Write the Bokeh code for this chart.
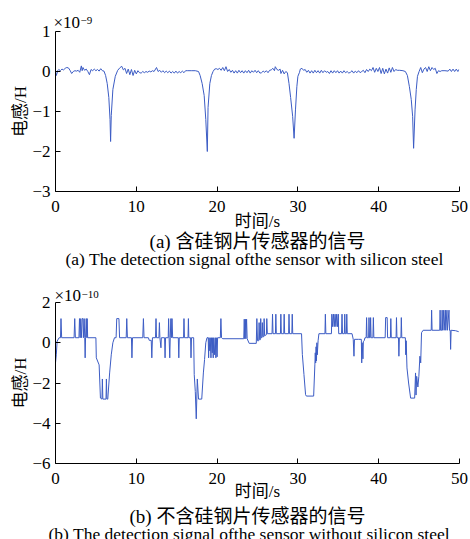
from bokeh.plotting import figure
from bokeh.models import Range1d, FixedTicker, Title
from bokeh.layouts import column
from bokeh.embed import file_html
from bokeh.resources import INLINE

# ---- data -------------------------------------------------------------
# (a) with silicon steel: time (s), inductance (x1e-9 H)
signal_a = [
    (0.0, 0.0), (0.1, -0.1), (0.3, 0.03), (0.4, 0.05), (0.6, 0.02), (0.8, 0.06), (1.0, 0.04),
    (1.2, 0.08), (1.4, 0.1), (1.6, 0.09), (1.8, 0.03), (2.0, -0.05), (2.2, 0.0), (2.4, 0.02),
    (2.6, 0.01), (2.8, 0.03), (3.0, -0.02), (3.2, 0.14), (3.3, 0.02), (3.4, 0.1), (3.6, 0.03),
    (3.8, 0.06), (4.0, 0.0), (4.2, -0.08), (4.4, 0.05), (4.6, 0.02), (4.8, 0.06), (5.0, 0.02),
    (5.2, 0.05), (5.4, 0.01), (5.6, 0.07), (5.8, 0.02), (6.0, 0.01),
    (6.2, -0.1), (6.4, -0.3), (6.6, -0.65), (6.75, -1.2), (6.82, -1.75), (6.9, -1.1),
    (7.1, -0.45), (7.4, -0.12), (7.7, 0.03),
    (8.0, 0.1), (8.2, 0.13), (8.4, 0.04), (8.6, 0.08), (8.8, -0.05), (9.0, 0.06), (9.2, -0.08),
    (9.4, 0.05), (9.6, -0.1), (9.8, 0.03), (10.0, -0.06), (10.2, 0.02), (10.4, -0.03),
    (10.6, -0.04), (10.8, 0.0), (11.0, -0.03), (11.2, 0.0), (11.4, -0.02), (11.6, 0.01),
    (11.8, -0.01), (12.0, 0.02), (12.2, 0.0), (12.5, 0.1), (12.7, 0.0), (12.9, 0.03),
    (13.1, -0.02), (13.3, 0.02), (13.5, -0.03), (13.7, 0.01), (13.9, -0.03), (14.1, 0.01),
    (14.3, -0.04), (14.5, 0.0), (14.7, -0.04), (14.9, 0.01), (15.1, -0.04), (15.3, 0.0),
    (15.5, -0.03), (15.7, 0.01), (15.9, -0.03), (16.1, 0.02), (16.3, 0.02), (16.8, 0.02),
    (17.3, 0.02), (17.7, 0.0),
    (17.9, -0.1), (18.15, -0.3), (18.4, -0.6), (18.6, -1.2), (18.79, -2.0), (18.88, -0.9),
    (19.1, -0.3), (19.3, -0.1), (19.5, 0.0), (19.7, 0.06),
    (19.9, 0.07), (20.1, 0.05), (20.3, 0.08), (20.5, 0.03), (20.7, 0.1), (20.9, 0.02),
    (21.1, 0.12), (21.3, 0.0), (21.5, 0.05), (21.7, -0.02), (21.9, 0.03), (22.1, -0.04),
    (22.3, 0.02), (22.5, -0.04), (22.7, 0.03), (22.9, -0.03), (23.1, 0.02), (23.3, -0.04),
    (23.5, 0.02), (23.7, -0.03), (23.9, 0.03), (24.1, -0.04), (24.3, 0.02), (24.5, -0.02),
    (24.7, 0.03), (24.9, -0.03), (25.1, 0.02), (25.3, -0.04), (25.5, -0.03), (25.7, 0.01),
    (25.9, -0.02), (26.1, 0.02), (26.3, -0.03), (26.5, 0.03), (26.7, 0.04), (26.9, 0.08),
    (27.1, 0.02), (27.2, 0.12), (27.4, 0.05), (27.6, 0.03), (27.8, 0.06), (27.9, -0.05),
    (28.1, 0.03), (28.3, -0.06), (28.5, 0.0), (28.7, -0.03),
    (28.9, -0.3), (29.1, -0.65), (29.35, -1.12), (29.53, -1.67), (29.7, -0.96),
    (29.87, -0.38), (30.0, -0.12), (30.2, -0.02), (30.3, 0.06),
    (30.5, 0.08), (30.7, 0.03), (30.9, 0.05), (31.1, -0.02), (31.3, 0.03), (31.5, -0.04),
    (31.7, 0.02), (31.9, -0.04), (32.1, 0.03), (32.3, -0.03), (32.5, 0.02), (32.7, -0.04),
    (32.9, 0.03), (33.1, -0.03), (33.3, 0.02), (33.5, -0.02), (33.7, 0.0), (33.9, -0.05),
    (34.1, 0.02), (34.3, -0.04), (34.5, 0.02), (34.7, -0.03), (34.9, 0.02), (35.1, -0.04),
    (35.3, 0.01), (35.5, -0.04), (35.7, 0.02), (35.9, -0.03), (36.1, 0.0), (36.3, -0.04),
    (36.5, -0.02), (36.7, 0.02), (36.9, -0.04), (37.1, 0.01), (37.3, -0.03), (37.5, 0.02),
    (37.7, -0.03), (37.9, 0.0), (38.1, 0.03), (38.3, -0.03), (38.5, 0.05), (38.7, 0.0),
    (38.9, 0.06), (39.1, 0.02), (39.3, 0.1), (39.5, -0.02), (39.7, 0.08), (39.9, 0.0),
    (40.1, 0.1), (40.3, -0.05), (40.5, 0.08), (40.7, -0.06), (40.9, 0.06), (41.1, -0.04),
    (41.3, 0.09), (41.5, -0.02), (41.7, 0.1), (41.9, 0.0), (42.1, 0.05), (42.3, 0.03),
    (42.6, 0.03), (43.0, 0.02), (43.3, 0.0),
    (43.55, -0.1), (43.8, -0.38), (44.03, -0.7), (44.2, -1.12), (44.32, -1.92), (44.5, -0.96),
    (44.65, -0.45), (44.8, -0.12), (45.0, 0.0),
    (45.2, 0.1), (45.4, -0.03), (45.6, 0.06), (45.8, 0.1), (46.0, 0.0), (46.2, 0.12),
    (46.4, 0.02), (46.6, 0.1), (46.8, 0.05), (47.0, 0.08), (47.2, -0.05), (47.4, 0.02),
    (47.6, 0.0), (47.8, 0.02), (48.2, 0.02), (48.6, 0.01), (48.8, 0.06), (49.0, 0.0),
    (49.2, 0.06), (49.4, 0.0), (49.6, 0.06), (49.8, 0.0), (49.9, 0.05),
]

# (b) without silicon steel: time (s), inductance (x1e-10 H)
signal_b = [
    (0.0, -1.0), (0.1, -0.6), (0.2, 0.08), (0.45, 0.25), (0.62, 0.25), (0.68, 1.2), (0.76, 0.25),
    (2.3, 0.25), (2.38, 1.2), (2.46, 0.25), (2.9, 0.25), (2.97, 1.2), (3.05, 0.25), (3.12, 1.2),
    (3.2, 0.25), (3.3, 1.2), (3.4, 1.2), (3.45, 0.25), (3.55, 1.2), (3.62, 0.25), (3.67, -0.75),
    (3.72, 0.25), (3.8, 1.2), (3.88, 0.25), (3.92, 1.2), (3.98, 0.25),
    (5.0, 0.25), (5.05, -0.75), (5.4, -1.1), (5.56, -2.75), (5.75, -2.8), (5.8, -1.8),
    (5.86, -2.8), (6.25, -2.8), (6.3, -1.8), (6.36, -2.8), (6.47, -2.8), (6.7, -1.5),
    (6.9, -0.6), (7.1, 0.0), (7.3, 0.25),
    (7.5, 0.25), (7.58, 1.2), (7.85, 1.2), (7.93, 0.25), (8.75, 0.25), (8.82, 1.2), (8.9, 0.25),
    (9.4, 0.25), (9.46, -0.75), (9.53, 0.25), (10.8, 0.25), (10.88, 1.2), (10.96, 0.25),
    (11.5, 0.25), (11.6, 0.12), (11.85, 0.12), (11.92, -0.75), (12.0, 0.25), (12.38, 0.25),
    (12.44, 1.2), (12.5, 0.25), (12.8, 0.25), (12.86, 1.0), (12.92, 0.25), (13.05, -0.25),
    (13.1, 0.25), (13.5, 0.25), (13.56, -0.75), (13.62, 0.25), (13.95, 0.25), (14.0, 1.2),
    (14.06, 0.25), (14.14, -0.75), (14.2, 0.25), (14.28, 1.2), (14.34, 0.25), (14.42, 1.2),
    (14.5, 0.25), (15.2, 0.25), (15.26, -0.75), (15.32, 0.25), (15.85, 0.25), (15.9, 1.2),
    (15.96, 0.25), (16.4, 0.25), (16.45, 1.2), (16.5, 0.25), (16.72, 0.25), (16.77, -0.75),
    (16.83, 0.25), (17.1, 0.25),
    (17.17, -1.58), (17.3, -2.42), (17.42, -3.78), (17.55, -1.8), (17.7, -2.8), (18.1, -2.8),
    (18.3, -1.5), (18.45, -0.83), (18.6, 0.0), (18.75, 0.25),
    (18.9, 0.25), (18.95, -0.75), (19.0, 0.25), (19.1, -0.4), (19.15, 0.25), (19.24, -0.75),
    (19.3, 0.25), (19.4, -0.5), (19.45, 0.25), (19.52, -0.75), (19.58, 0.25), (19.7, -0.6),
    (19.77, 0.25), (19.85, -0.75), (19.9, 0.25), (20.0, -0.7), (20.06, 0.25), (20.4, 0.25),
    (20.47, 1.2), (20.55, 0.25), (20.7, 0.2), (23.3, 0.2), (23.36, 1.17), (23.42, 0.2),
    (23.5, 1.17), (23.56, 0.2), (23.65, 1.17), (23.72, 0.2), (23.97, -0.03), (24.85, -0.03),
    (24.92, 1.2), (25.0, 0.1), (25.15, 0.1), (25.2, 1.0), (25.27, 0.15), (25.35, 0.15),
    (25.4, 1.2), (25.46, 0.25), (25.55, 0.25), (25.6, 1.0), (25.66, 0.3), (25.77, 0.3),
    (25.82, 1.2), (25.88, 0.35), (26.1, 0.4), (26.15, 1.2), (26.22, 0.45),
    (26.8, 0.45), (26.86, 1.42), (26.92, 0.45), (27.22, 0.45), (27.27, 1.42), (27.33, 0.45),
    (27.84, 0.45), (27.89, 1.42), (27.95, 0.45), (28.25, 0.45), (28.3, 1.42), (28.36, 0.45),
    (28.85, 0.45), (28.9, 1.42), (28.96, 0.45), (29.25, 0.45), (29.3, 1.42), (29.36, 0.45),
    (30.45, 0.45),
    (30.55, -0.58), (30.75, -1.58), (30.95, -2.58), (31.05, -2.65), (31.95, -2.65),
    (32.1, -1.1), (32.15, -0.5), (32.2, -1.0), (32.25, -0.2), (32.3, -0.9), (32.35, 0.0),
    (32.4, -0.6), (32.5, 0.1), (32.6, 0.45),
    (33.35, 0.45), (33.4, 1.42), (33.46, 0.45), (34.15, 0.45), (34.2, 1.42), (34.3, 0.8),
    (34.4, 1.42), (34.5, 0.8), (34.6, 1.42), (34.7, 0.8), (34.8, 1.42), (34.9, 0.8),
    (35.0, 1.42), (35.05, 0.45), (35.4, 0.45), (35.46, 1.42), (35.52, 0.45), (35.75, 0.45),
    (35.8, 1.42), (35.86, 0.45), (36.0, 0.45), (36.05, 1.42), (36.11, 0.45), (36.7, 0.45),
    (36.85, 0.17), (36.94, -0.67), (37.0, 0.17), (37.5, 0.17), (37.85, 0.17), (37.9, -1.0),
    (37.95, 0.0), (38.05, -0.8), (38.1, 0.05), (38.2, 0.1), (38.3, 0.25), (38.45, 0.25),
    (38.5, 1.25), (38.56, 0.25), (38.75, 0.25), (38.8, 1.25), (38.86, 0.25), (38.95, 0.25),
    (39.0, 1.25), (39.06, 0.25), (39.28, 0.25), (39.34, 1.25), (39.4, 0.25), (40.8, 0.25),
    (40.86, 1.25), (41.05, 1.25), (41.1, 0.25), (41.45, 0.25), (41.5, 1.2), (41.56, 0.25),
    (42.15, 0.25), (42.2, 1.25), (42.26, 0.25), (42.45, 0.25), (42.5, -0.67), (42.56, 0.25),
    (42.75, 0.25), (42.8, 1.25), (42.86, 0.25), (43.3, 0.25), (43.35, -0.6), (43.4, 0.1),
    (43.5, -1.25), (43.7, -2.0), (43.95, -2.75), (44.45, -2.75), (44.56, -1.5), (44.62, -2.6),
    (44.7, -1.67), (44.85, -2.2), (44.97, -1.67), (45.1, -0.67), (45.2, -1.0), (45.3, 0.5),
    (45.5, 0.62), (46.5, 0.62), (46.55, 1.62), (46.61, 0.62), (47.55, 0.62), (47.6, 1.62),
    (47.66, 0.62), (47.8, 0.62), (47.85, 1.62), (47.91, 0.62), (48.05, 1.62), (48.1, 0.62),
    (48.25, 1.62), (48.3, 0.62), (48.45, 1.62), (48.5, 0.62), (48.7, 1.62), (48.76, 0.62),
    (48.85, 0.62), (48.9, -0.33), (48.96, 0.62), (49.5, 0.6), (49.9, 0.55),
]

x_ticks = [0, 10, 20, 30, 40, 50]
y_ticks_a = [-3, -2, -1, 0, 1]
y_ticks_b = [-6, -4, -2, 0, 2]
exp_a = "\u22129"
exp_b = "\u221210"
x_label = "时间/s"
y_label = "电感/H"
cap_cn_a = "(a) 含硅钢片传感器的信号"
cap_en_a = "(a) The detection signal ofthe sensor with silicon steel"
cap_cn_b = "(b) 不含硅钢片传感器的信号"
cap_en_b = "(b) The detection signal ofthe sensor without silicon steel"

# ---- style ------------------------------------------------------------
LINE = "#3c5cc4"
SERIF = "Liberation Serif"
MIXED = "Liberation Serif, Noto Sans CJK SC"


def make_panel(sig, y_rng, y_ticks, exp_txt, cap_cn, cap_en, height, b_left, b_top,
               b_bottom, b_right, cn_align, cn_off, en_off, cn_so, en_so, x10_so, exp_so,
               xlab_so):
    t = [s[0] for s in sig]
    v = [s[1] for s in sig]
    p = figure(width=470, height=height, output_backend="svg", toolbar_location=None,
               x_range=Range1d(0, 50), y_range=Range1d(*y_rng),
               min_border_left=b_left, min_border_right=b_right,
               min_border_top=b_top, min_border_bottom=b_bottom)
    p.line(t, v, line_color=LINE, line_width=1)
    p.outline_line_color = None
    p.grid.visible = False
    p.background_fill_color = "white"
    p.border_fill_color = "white"
    p.xaxis.ticker = FixedTicker(ticks=x_ticks)
    p.yaxis.ticker = FixedTicker(ticks=y_ticks)
    p.yaxis.major_label_overrides = {k: ("\u2212" + str(-k) if k < 0 else str(k)) for k in y_ticks}
    for ax in (p.xaxis[0], p.yaxis[0]):
        ax.major_tick_in = 5
        ax.major_tick_out = 0
        ax.minor_tick_line_color = None
        ax.axis_line_color = "black"
        ax.major_tick_line_color = "black"
        ax.major_label_text_font = SERIF
        ax.major_label_text_font_size = "17px"
        ax.major_label_text_color = "black"
        ax.axis_label_text_font = MIXED
        ax.axis_label_text_font_size = "17px"
        ax.axis_label_text_font_style = "normal"
        ax.axis_label_text_color = "black"
    p.xaxis.axis_label = x_label
    p.yaxis.axis_label = y_label
    p.xaxis.major_label_standoff = 9
    p.xaxis.axis_label_standoff = xlab_so
    p.yaxis.major_label_standoff = 5
    p.yaxis.axis_label_standoff = -1
    p.yaxis.major_label_orientation = "horizontal"

    # "x10" multiplier with raised exponent (second title stacks above the first)
    p.add_layout(Title(text="\u00d710", align="left", offset=53 - b_left, standoff=x10_so,
                       text_font=SERIF, text_font_size="17px", text_font_style="normal",
                       text_color="black"), "above")
    p.add_layout(Title(text=exp_txt, align="left", offset=80 - b_left, standoff=exp_so,
                       text_font=SERIF, text_font_size="11px", text_font_style="normal",
                       text_color="black"), "above")
    p.add_layout(Title(text=cap_cn, align=cn_align, offset=cn_off, standoff=cn_so,
                       text_font=MIXED, text_font_size="19px", text_font_style="normal",
                       text_color="black"), "below")
    p.add_layout(Title(text=cap_en, align="left", offset=en_off, standoff=en_so,
                       text_font=SERIF, text_font_size="17.5px", text_font_style="normal",
                       text_color="black"), "below")
    return p


p1 = make_panel(signal_a, (-3, 1), y_ticks_a, exp_a, cap_cn_a, cap_en_a,
                270, 55, 31, 79, 7, "center", 0, 10, -10, 0, 0, -27, -3)
p2 = make_panel(signal_b, (-6, 2), y_ticks_b, exp_b, cap_cn_b, cap_en_b,
                269, 54, 32, 76, 11, "left", 74, -7, 0, -9, -4, -24, -5)

layout = column(p1, p2, spacing=0)
open("out.html", "w").write(file_html(layout, INLINE))
